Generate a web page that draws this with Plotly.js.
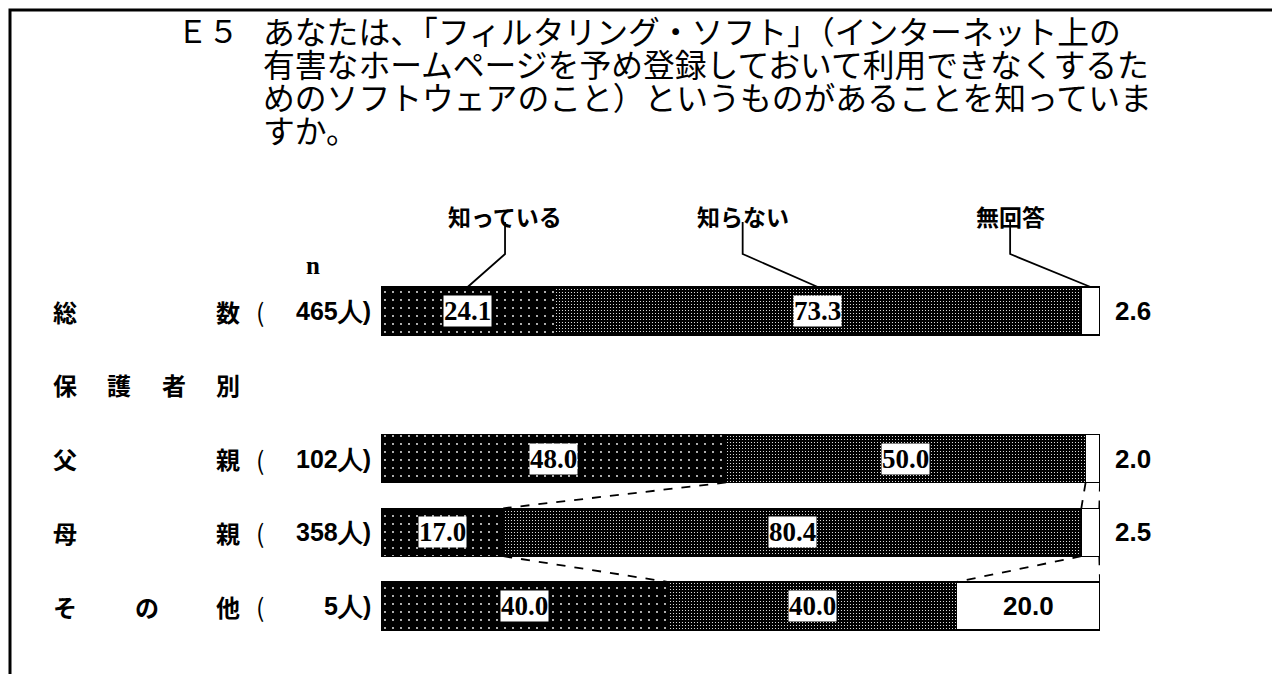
<!DOCTYPE html>
<html>
<head>
<meta charset="utf-8">
<script src="https://cdn.plot.ly/plotly-3.0.1.min.js"></script>
<style>
  html, body { margin: 0; padding: 0; background: #ffffff; }
  #chart { width: 1272px; height: 674px; }
</style>
</head>
<body>
<div id="chart"></div>
<script>
const rows = ['総数', '保護者別', '父親', '母親', 'その他'];
const counts = [465, null, 102, 358, 5];
const answers = ['知っている', '知らない', '無回答'];
const knows = [24.1, null, 48.0, 17.0, 40.0];
const notKnow = [73.3, null, 50.0, 80.4, 40.0];
const noAnswer = [2.6, null, 2.0, 2.5, 20.0];
const series = [knows, notKnow, noAnswer];
const questionNo = 'Ｅ５';
const questionLines = [
  'あなたは、「フィルタリング・ソフト」（インターネット上の',
  '有害なホームページを予め登録しておいて利用できなくするた',
  'めのソフトウェアのこと）というものがあることを知っていま',
  'すか。'
];

// page geometry (pixels)
const W = 1272, H = 674;
const row0 = 311, rowGap = 73.75, barW = 0.65, half = barW / 2;
const px = x => x / W;
const py = y => 1 - y / H;
const toRow = y => (y - row0) / rowGap;
const legendX = [17.25, 50.3, 87.5];

const jp = 'Noto Sans CJK JP, sans-serif';
const serifNum = 'Liberation Serif, serif';
const sansNum = 'Liberation Sans, Arial, sans-serif';

const rowPos = rows.map((_, i) => i);
const cumulative = rowPos.map(i => {
  let s = 0;
  return series.map(v => (s += v[i] ?? 0));
});

const patterns = [
  { shape: '.', bgcolor: '#000000', fgcolor: '#ffffff', size: 8, solidity: 0.04 },
  { shape: '.', bgcolor: '#000000', fgcolor: '#ffffff', size: 3, solidity: 0.12 },
  null
];
const fills = ['#000000', '#000000', '#ffffff'];

const traces = series.map((vals, k) => ({
  type: 'bar',
  orientation: 'h',
  name: answers[k],
  y: rowPos,
  x: vals,
  width: barW,
  marker: {
    color: fills[k],
    line: { color: '#000000', width: 1.2 },
    ...(patterns[k] ? { pattern: patterns[k] } : {})
  },
  hoverinfo: 'skip'
}));

const annotations = [];
const shapes = [];
const note = (o) => annotations.push({ showarrow: false, xanchor: 'center', yanchor: 'middle', ...o });

// frame
shapes.push({ type: 'path', xref: 'paper', yref: 'paper',
  path: `M ${px(10)},${py(H)} L ${px(10)},${py(10)} L ${px(W)},${py(10)}`,
  line: { color: '#000000', width: 3 } });

// question title
note({ xref: 'paper', yref: 'paper', x: px(175), y: py(30), xanchor: 'left',
  text: questionNo, font: { family: jp, size: 31, color: '#000' } });
questionLines.forEach((t, i) => note({
  xref: 'paper', yref: 'paper', x: px(261), y: py(30 + i * 33), xanchor: 'left',
  text: t, font: { family: jp, size: 31.8, color: '#000' }
}));

// legend labels with leader lines to the first bar
answers.forEach((a, k) => {
  note({ xref: 'x', yref: 'y', x: legendX[k], y: toRow(216),
    text: '<b>' + a + '</b>', font: { family: jp, size: 23, color: '#000' } });
  const mid = cumulative[0][k] - series[k][0] / 2;
  shapes.push({ type: 'path', xref: 'x', yref: 'y',
    path: `M ${legendX[k]},${toRow(222)} L ${legendX[k]},${toRow(254)} L ${mid},${-half}`,
    line: { color: '#000000', width: 1.8 } });
});

// n header
note({ xref: 'paper', yref: 'y', x: px(313), y: toRow(265), text: '<b>n</b>',
  font: { family: serifNum, size: 25, color: '#000' } });

// row labels, characters spread over a fixed width
rows.forEach((r, i) => {
  const chars = [...r];
  chars.forEach((c, j) => note({
    xref: 'paper', yref: 'y', x: px(65 + j * (228 - 65) / (chars.length - 1)), y: i,
    text: '<b>' + c + '</b>', font: { family: jp, size: 24, color: '#000' }
  }));
  if (counts[i] != null) {
    note({ xref: 'paper', yref: 'y', x: px(260), y: i, text: '(',
      font: { family: jp, size: 25, color: '#000' } });
    note({ xref: 'paper', yref: 'y', x: px(373), y: i, xanchor: 'right',
      text: '<b>' + counts[i] + '人)</b>', font: { family: sansNum, size: 25, color: '#000' } });
  }
});

// value labels
rowPos.forEach(i => {
  series.forEach((vals, k) => {
    const v = vals[i];
    if (v == null) return;
    const mid = cumulative[i][k] - v / 2;
    const text = '<b>' + v.toFixed(1) + '</b>';
    if (k < 2) {
      note({ xref: 'x', yref: 'y', x: mid, y: i, text, bgcolor: '#ffffff', borderpad: 0,
        font: { family: serifNum, size: 27, color: '#000' } });
    } else if (v < 10) {
      note({ xref: 'paper', yref: 'y', x: px(1133), y: i, text,
        font: { family: sansNum, size: 26, color: '#000' } });
    } else {
      note({ xref: 'x', yref: 'y', x: mid, y: i, text,
        font: { family: sansNum, size: 26, color: '#000' } });
    }
  });
});

// dashed connectors between the breakdown rows
[2, 3].forEach(i => {
  series.forEach((_, k) => {
    shapes.push({ type: 'line', xref: 'x', yref: 'y',
      x0: cumulative[i][k], y0: i + half, x1: cumulative[i + 1][k], y1: i + 1 - half,
      line: { color: '#000000', width: 1.8, dash: 'dash' } });
  });
});

const layout = {
  width: W,
  height: H,
  margin: { l: 0, r: 0, t: 0, b: 0 },
  paper_bgcolor: '#ffffff',
  plot_bgcolor: 'rgba(0,0,0,0)',
  barmode: 'stack',
  bargap: 0,
  showlegend: false,
  xaxis: { domain: [px(381), px(1100)], range: [0, 100], visible: false, fixedrange: true },
  yaxis: { domain: [0, 1], range: [(H - row0) / rowGap, -row0 / rowGap], visible: false, fixedrange: true },
  annotations,
  shapes
};

Plotly.newPlot('chart', traces, layout, { displayModeBar: false, staticPlot: true });
</script>
</body>
</html>
